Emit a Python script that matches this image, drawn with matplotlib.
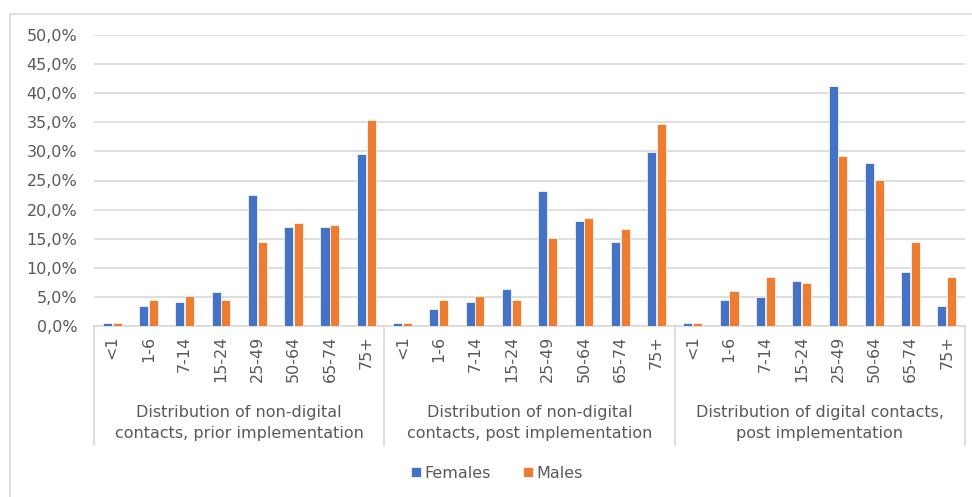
import numpy as np
import matplotlib
matplotlib.use("Agg")
import matplotlib.pyplot as plt
from matplotlib.patches import Rectangle
from matplotlib.ticker import FuncFormatter

plt.rcParams["font.family"] = ["DejaVu Sans"]

# DATA

age_groups = ["<1", "1-6", "7-14", "15-24", "25-49", "50-64", "65-74", "75+"]
group_labels = [
    "Distribution of non-digital\ncontacts, prior implementation",
    "Distribution of non-digital\ncontacts, post implementation",
    "Distribution of digital contacts,\npost implementation",
]

females_prior = [0.5, 3.4, 4.1, 5.9, 22.5, 17.0, 17.0, 29.5]
males_prior = [0.5, 4.5, 5.2, 4.5, 14.4, 17.7, 17.3, 35.4]

females_post = [0.5, 3.0, 4.1, 6.3, 23.2, 18.1, 14.4, 29.9]
males_post = [0.5, 4.5, 5.2, 4.5, 15.1, 18.5, 16.7, 34.7]

females_digital = [0.5, 4.5, 4.9, 7.7, 41.3, 28.0, 9.3, 3.4]
males_digital = [0.5, 6.0, 8.5, 7.4, 29.2, 25.1, 14.4, 8.5]

females = females_prior + females_post + females_digital
males = males_prior + males_post + males_digital
tick_labels = age_groups * 3

BLUE = "#4472C4"
ORANGE = "#ED7D31"
GRID = "#D9D9D9"
TEXT = "#595959"

# PLOT

fig = plt.figure(figsize=(9.72, 4.97), dpi=100)
ax = fig.add_axes([94 / 972, 1 - 326 / 497, (965 - 94) / 972, (326 - 35) / 497])

# chart frame
fig.patches.append(Rectangle((10 / 972, -0.1), 1.2, 1 - 14 / 497 + 0.1,
                             transform=fig.transFigure, fill=False,
                             edgecolor=GRID, linewidth=1.2, zorder=0))

x = np.arange(len(tick_labels))
w = 0.25
ax.bar(x - 0.135, females, width=w, color=BLUE, edgecolor="white",
       linewidth=0.5, label="Females", zorder=3)
ax.bar(x + 0.135, males, width=w, color=ORANGE, edgecolor="white",
       linewidth=0.5, label="Males", zorder=3)

ax.set_xlim(-0.5, len(tick_labels) - 0.5)
ax.set_ylim(0, 50)
ax.set_yticks(np.arange(0, 51, 5))
ax.yaxis.set_major_formatter(FuncFormatter(lambda v, p: f"{v:.1f}%".replace(".", ",")))
ax.grid(axis="y", color=GRID, linewidth=1.2, zorder=0)

for s in ["top", "right", "left"]:
    ax.spines[s].set_visible(False)
ax.spines["bottom"].set_color(GRID)
ax.spines["bottom"].set_linewidth(1.2)

ax.tick_params(axis="y", length=0, labelsize=11.5, labelcolor=TEXT, pad=12)
ax.tick_params(axis="x", length=0, pad=7)
ax.set_xticks(x)
ax.set_xticklabels(tick_labels, rotation=90, fontsize=11.5, color=TEXT,
                   ha="center", va="top")

# group separators and labels under the axis
trans = ax.get_xaxis_transform()
line_bottom = -(445 - 326) / 291
for sep in [-0.5, 7.5, 15.5, 23.5]:
    ax.plot([sep, sep], [0, line_bottom], transform=trans, color=GRID,
            linewidth=1.2, clip_on=False)

for i, lab in enumerate(group_labels):
    ax.text(i * 8 + 3.5, -(423 - 326) / 291, lab, transform=trans,
            ha="center", va="center", fontsize=11.5, color=TEXT,
            linespacing=1.45)

fig.legend(loc="center", bbox_to_anchor=(497 / 972, 1 - 473 / 497), ncol=2,
           frameon=False, fontsize=11.5, labelcolor=TEXT, handlelength=0.6,
           handleheight=0.6, handletextpad=0.25, columnspacing=2.0)

fig.savefig("out.png", dpi=100)
